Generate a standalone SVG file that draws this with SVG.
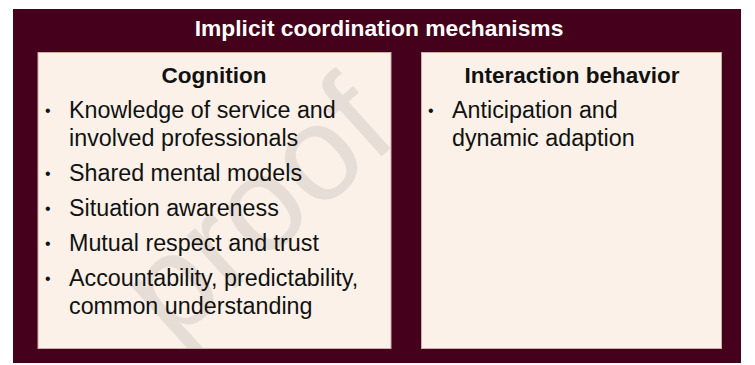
<svg xmlns="http://www.w3.org/2000/svg" width="755" height="365" viewBox="0 0 755 365">
<style>
.t{font-family:"Liberation Sans",Arial,Helvetica,sans-serif;fill:#111}
.h{font-weight:bold;font-size:22.5px;text-anchor:middle}
.b{font-size:23.3px}
.dot{font-size:16px}
.panel{fill:#fbf1e8;stroke:#c8b2a8;stroke-width:1}
</style>
<defs>
<clipPath id="lp"><rect x="38" y="52" width="353" height="296"/></clipPath>
</defs>
<rect width="755" height="365" fill="#ffffff"/>
<g id="frame">
<rect x="13" y="9" width="728" height="354" fill="#45001b"/>
<text x="379" y="36" style="font-family:'Liberation Sans',Arial,sans-serif;fill:#ffffff;font-weight:bold;font-size:22.8px;text-anchor:middle">Implicit coordination mechanisms</text>
</g>
<g id="cognition">
<rect x="38" y="52.5" width="353" height="296" class="panel"/>
<g clip-path="url(#lp)">
<text transform="translate(172,345) rotate(-42)" style="font-family:'Liberation Sans',Arial,sans-serif;font-size:135px;fill:#e6ddd6">proof</text>
</g>
<text x="214" y="83" class="t h">Cognition</text>
<g class="t b">
<text x="45" y="116" class="dot">•</text><text x="69" y="118">Knowledge of service and</text>
<text x="69" y="146">involved professionals</text>
<text x="45" y="179" class="dot">•</text><text x="69" y="181">Shared mental models</text>
<text x="45" y="214" class="dot">•</text><text x="69" y="216">Situation awareness</text>
<text x="45" y="249" class="dot">•</text><text x="69" y="251">Mutual respect and trust</text>
<text x="45" y="284" class="dot">•</text><text x="69" y="286">Accountability, predictability,</text>
<text x="69" y="314">common understanding</text>
</g>
</g>
<g id="interaction">
<rect x="421.5" y="52.5" width="300" height="296" class="panel"/>
<text x="572" y="83" class="t h">Interaction behavior</text>
<g class="t b">
<text x="428" y="116" class="dot">•</text><text x="452" y="118">Anticipation and</text>
<text x="452" y="146">dynamic adaption</text>
</g>
</g>
<g id="connectors"/>
</svg>
